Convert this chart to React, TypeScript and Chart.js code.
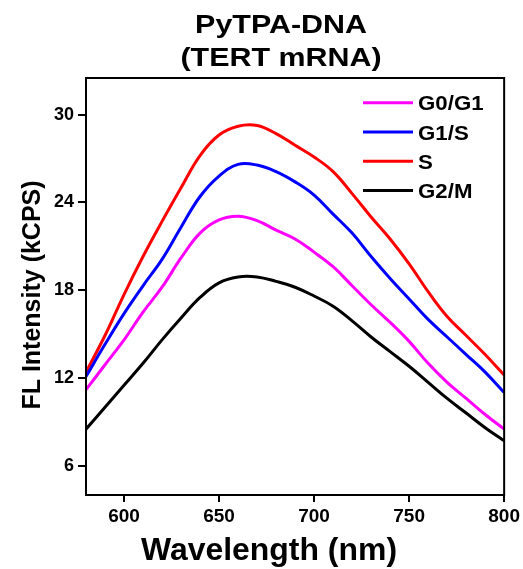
import React, { useEffect, useRef } from "react";
import { Chart, registerables } from "chart.js";

Chart.register(...registerables);

const titleLines = ["PyTPA-DNA", "(TERT mRNA)"];
const xTitle = "Wavelength (nm)";
const yTitle = "FL Intensity (kCPS)";

const wavelengths = [580, 590, 600, 610, 620, 630, 640, 650, 660, 670, 680, 690, 700, 710, 720, 730, 740, 750, 760, 770, 780, 790, 800];

const g0g1 = [11.2, 12.9, 14.6, 16.5, 18.2, 20.2, 21.9, 22.8, 23.05, 22.75, 22.1, 21.5, 20.6, 19.6, 18.3, 17.0, 15.8, 14.5, 13.0, 11.7, 10.6, 9.5, 8.5];
const g1s = [12.1, 14.3, 16.4, 18.3, 20.1, 22.3, 24.4, 25.8, 26.6, 26.55, 26.1, 25.4, 24.5, 23.2, 21.9, 20.3, 18.8, 17.4, 16.0, 14.8, 13.6, 12.4, 11.0];
const sPhase = [12.4, 14.9, 17.7, 20.3, 22.7, 25.0, 27.2, 28.6, 29.2, 29.25, 28.7, 27.9, 27.1, 26.1, 24.6, 23.0, 21.5, 19.8, 17.9, 16.2, 14.9, 13.6, 12.2];
const g2m = [8.5, 10.0, 11.5, 13.0, 14.6, 16.1, 17.5, 18.5, 18.9, 18.9, 18.6, 18.2, 17.6, 16.9, 15.9, 14.8, 13.8, 12.8, 11.7, 10.6, 9.6, 8.6, 7.7];

const seriesLabels = ["G0/G1", "G1/S", "S", "G2/M"];
const seriesColors = ["#ff00ff", "#0000ff", "#ff0000", "#000000"];
const seriesValues = [g0g1, g1s, sPhase, g2m];

const xTicks = [600, 650, 700, 750, 800];
const yTicks = [6, 12, 18, 24, 30];

const FONT = "'Liberation Sans', Arial, sans-serif";

const decorPlugin = {
  id: "decor",
  afterDatasetsDraw(chart: any) {
    const { ctx, chartArea } = chart;
    ctx.save();
    ctx.strokeStyle = "#000";
    ctx.lineWidth = 2;
    ctx.strokeRect(chartArea.left, chartArea.top, chartArea.right - chartArea.left, chartArea.bottom - chartArea.top);

    ctx.fillStyle = "#000";
    ctx.font = `bold 26px ${FONT}`;
    ctx.textAlign = "center";
    ctx.textBaseline = "alphabetic";
    const tb = [33, 66];
    titleLines.forEach((t, i) => {
      ctx.save();
      ctx.translate(281, tb[i]);
      ctx.scale(1.17, 1);
      ctx.fillText(t, 0, 0);
      ctx.restore();
    });

    ctx.font = `bold 31px ${FONT}`;
    ctx.save();
    ctx.translate(269, 560);
    ctx.scale(1.03, 1);
    ctx.fillText(xTitle, 0, 0);
    ctx.restore();

    ctx.font = `bold 25px ${FONT}`;
    ctx.save();
    ctx.translate(40, 295);
    ctx.rotate(-Math.PI / 2);
    ctx.fillText(yTitle, 0, 0);
    ctx.restore();

    ctx.textAlign = "left";
    ctx.font = `bold 21px ${FONT}`;
    chart.data.datasets.forEach((ds: any, i: number) => {
      const y = 102.7 + i * 29.3;
      ctx.strokeStyle = ds.borderColor;
      ctx.lineWidth = 3;
      ctx.beginPath();
      ctx.moveTo(363, y);
      ctx.lineTo(413, y);
      ctx.stroke();
      ctx.fillStyle = "#000";
      ctx.save();
      ctx.translate(418, y + 7.5);
      ctx.scale(1.06, 1);
      ctx.fillText(ds.label, 0, 0);
      ctx.restore();
    });
    ctx.restore();
  },
};

export default function App() {
  const ref = useRef<HTMLCanvasElement | null>(null);

  useEffect(() => {
    if (!ref.current) return;
    Chart.defaults.color = "#000";
    const chart = new Chart(ref.current, {
      type: "line",
      data: {
        datasets: seriesLabels.map((label, i) => ({
          label,
          data: wavelengths.map((w, j) => ({ x: w, y: seriesValues[i][j] })),
          borderColor: seriesColors[i],
          backgroundColor: seriesColors[i],
          borderWidth: 3,
          pointRadius: 0,
          tension: 0.4,
          fill: false,
        })),
      },
      options: {
        responsive: false,
        animation: false,
        layout: { padding: { top: 78, right: 18, left: 0, bottom: 0 } },
        plugins: { legend: { display: false }, title: { display: false }, tooltip: { enabled: false } },
        scales: {
          x: {
            type: "linear",
            min: 580,
            max: 800,
            afterFit: (s: any) => { s.height = 74; },
            afterBuildTicks: (s: any) => { s.ticks = xTicks.map((v) => ({ value: v })); },
            grid: { display: true, drawOnChartArea: false, drawTicks: true, tickLength: 7, color: "#000", lineWidth: 2 },
            border: { display: true, color: "#000", width: 2 },
            ticks: { color: "#000", font: { family: FONT, size: 19, weight: "bold" }, padding: 3, maxRotation: 0 },
          },
          y: {
            type: "linear",
            min: 4,
            max: 32.5,
            afterFit: (s: any) => { s.width = 86; },
            afterBuildTicks: (s: any) => { s.ticks = yTicks.map((v) => ({ value: v })); },
            grid: { display: true, drawOnChartArea: false, drawTicks: true, tickLength: 8, color: "#000", lineWidth: 2 },
            border: { display: true, color: "#000", width: 2 },
            ticks: { color: "#000", font: { family: FONT, size: 18, weight: "bold" }, padding: 4 },
          },
        },
      },
      plugins: [decorPlugin],
    });
    return () => chart.destroy();
  }, []);

  return (
    <div style={{ position: "absolute", left: 0, top: 0, width: 523, height: 569, background: "#fff" }}>
      <canvas ref={ref} width={523} height={569} style={{ display: "block" }} />
    </div>
  );
}
